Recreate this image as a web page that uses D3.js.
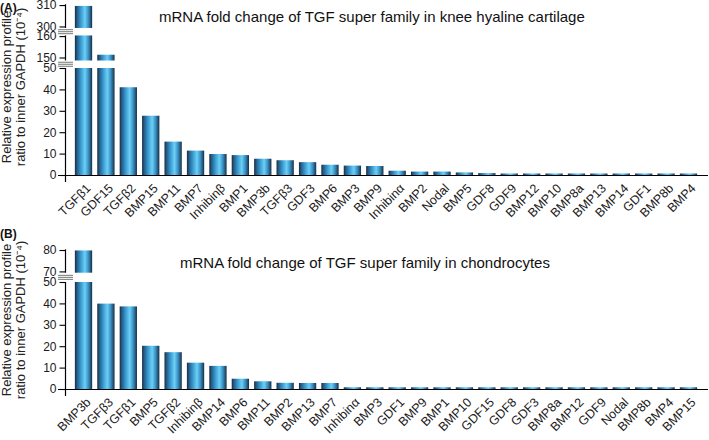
<!DOCTYPE html>
<html><head><meta charset="utf-8">
<script src="https://cdn.jsdelivr.net/npm/d3@7"></script>
<style>
html,body{margin:0;padding:0;background:#fff;}
svg{display:block;font-family:"Liberation Sans",Arial,sans-serif;}
</style></head>
<body><svg id="c" width="709" height="440"></svg>
<script>
// ---- data ----
const categoriesA = ["TGFβ1","GDF15","TGFβ2","BMP15","BMP11","BMP7","Inhibinβ","BMP1","BMP3b","TGFβ3","GDF3","BMP6","BMP3","BMP9","Inhibinα","BMP2","Nodal","BMP5","GDF8","GDF9","BMP12","BMP10","BMP8a","BMP13","BMP14","GDF1","BMP8b","BMP4"];
const valuesA = [309.6,151.3,41.0,27.7,15.6,11.4,9.8,9.3,7.6,6.9,6.0,4.8,4.4,4.2,2.0,1.6,1.6,1.2,0.9,0.7,0.7,0.7,0.7,0.7,0.7,0.7,0.7,0.7];
const categoriesB = ["BMP3b","TGFβ3","TGFβ1","BMP5","TGFβ2","Inhibinβ","BMP14","BMP6","BMP11","BMP2","BMP13","BMP7","Inhibinα","BMP3","GDF1","BMP9","BMP1","BMP10","GDF15","GDF8","GDF3","BMP8a","BMP12","GDF9","Nodal","BMP8b","BMP4","BMP15"];
const valuesB = [79.8,39.9,38.6,20.2,17.2,12.3,10.8,4.8,3.6,2.9,2.8,2.8,0.8,0.8,0.8,0.8,0.8,0.8,0.8,0.8,0.8,0.8,0.8,0.8,0.8,0.8,0.8,0.8];
// axis segments (value domains of each broken-axis piece) and their tick labels
const segmentsA = [[0,50],[148.6,160.3],[299.3,310.4]];
const ticksA = [[0,10,20,30,40,50],[150,160],[300,310]];
const segmentsB = [[0,50],[69.4,80.3]];
const ticksB = [[0,10,20,30,40,50],[70,80]];
const titleA = "mRNA fold change of TGF super family in knee hyaline cartilage";
const titleB = "mRNA fold change of TGF super family in chondrocytes";
const yTitle = ["Relative expression profile","ratio to inner GAPDH (10\u207B\u2074)"];

// ---- layout ----
const svg = d3.select("#c");
const defs = svg.append("defs");
const grad = defs.append("linearGradient").attr("id","barGrad").attr("x1","0").attr("x2","1").attr("y1","0").attr("y2","0");
[["0%","#1a2a3d"],["12%","#225b88"],["35%","#3a9bd0"],["58%","#6dcff6"],["78%","#3892c6"],["100%","#192e45"]]
  .forEach(([o,c])=>grad.append("stop").attr("offset",o).attr("stop-color",c));

const pxPerUnit = 2.14;
function panel(cfg){
  const g = svg.append("g");
  const x = d3.scaleBand().domain(cfg.cats).range([65,707]).paddingInner(0.228).paddingOuter(0.44);
  const scales = [];
  let bottom = cfg.base;
  cfg.segs.forEach((d,i)=>{
    const h = (d[1]-d[0])*pxPerUnit;
    scales.push(d3.scaleLinear().domain(d).range([bottom, bottom-h]));
    bottom = bottom - h - cfg.gap;
  });
  // bars
  cfg.vals.forEach((v,i)=>{
    scales.forEach((s,si)=>{
      const [lo,hi] = s.domain();
      if (v <= lo) return;
      const top = s(Math.min(v,hi)), bot = s(lo);
      g.append("rect").attr("x",x(cfg.cats[i])).attr("width",x.bandwidth())
        .attr("y",top).attr("height",Math.max(0,bot-top)).attr("fill","url(#barGrad)");
    });
  });
  // y axis pieces
  scales.forEach((s,si)=>{
    const r = s.range();
    const ax = g.append("g").attr("transform","translate(65.5,0)")
      .call(d3.axisLeft(s).tickValues(cfg.ticks[si]).tickSize(6).tickPadding(3).tickFormat(d3.format("d")));
    ax.select(".domain").remove();
    ax.append("line").attr("x1",0).attr("x2",0).attr("y1",r[0] + (si===0?7:0)).attr("y2",r[1]).attr("stroke","#000").attr("stroke-width",1.2);
    ax.selectAll(".tick line").attr("stroke","#000").attr("stroke-width",1.1);
    ax.selectAll("text").attr("font-size",12).attr("fill","#1a1a1a").attr("font-family","Liberation Sans, Arial, sans-serif");
    if (si>0){
      const below = scales[si-1].range()[1];
      const mid = (r[0]+below)/2;
      [-2,0,2].forEach(o=>g.append("line").attr("x1",58).attr("x2",73).attr("y1",mid+o).attr("y2",mid+o)
        .attr("stroke","#777").attr("stroke-width",1));
    }
  });
  // x axis line
  g.append("line").attr("x1",58).attr("x2",708).attr("y1",cfg.base+0.5).attr("y2",cfg.base+0.5).attr("stroke","#000").attr("stroke-width",1.2);
  // x labels
  cfg.cats.forEach(c=>{
    const cx = x(c)+x.bandwidth()/2;
    g.append("text").attr("transform",`translate(${cx+8},${cfg.base+14}) rotate(-45)`)
      .attr("text-anchor","end").attr("font-size",12.5).attr("fill","#1a1a1a").text(c);
  });
  // title
  g.append("text").attr("x",cfg.titleX).attr("y",cfg.titleY).attr("font-size",15).attr("fill","#111").text(cfg.title);
  // panel label
  g.append("text").attr("x",0).attr("y",cfg.labelY).attr("font-size",12).attr("font-weight","bold").attr("fill","#111").text(cfg.label);
  // y title
  const yt = g.append("text").attr("transform",`translate(0,${cfg.yTitleC}) rotate(-90)`).attr("text-anchor","middle").attr("font-size",13).attr("fill","#222");
  yt.append("tspan").attr("x",0).attr("y",11).text(yTitle[0]);
  yt.append("tspan").attr("x",0).attr("y",25).text(yTitle[1]);
}

panel({cats:categoriesA, vals:valuesA, segs:segmentsA, ticks:ticksA, base:175, gap:7.5,
  title:titleA, titleX:159, titleY:22, label:"(A)", labelY:12, yTitleC:87});
panel({cats:categoriesB, vals:valuesB, segs:segmentsB, ticks:ticksB, base:389, gap:9.3,
  title:titleB, titleX:180, titleY:268, label:"(B)", labelY:238, yTitleC:320});
</script></body></html>
